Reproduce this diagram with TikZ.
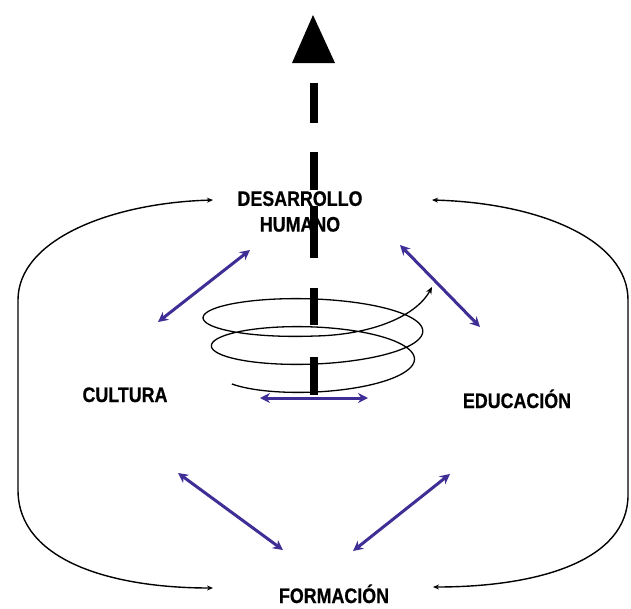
\documentclass[tikz,border=0pt]{standalone}
\usepackage{fontspec}
\newfontfamily\labelfont[FakeStretch=0.85, FakeBold=0.6]{Liberation Sans Bold}
\usetikzlibrary{arrows.meta}
\definecolor{arrowblue}{RGB}{62,46,150}
\begin{document}
\begin{tikzpicture}[x=1pt,y=-1pt,
  lbl/.style={font=\labelfont\fontsize{21}{25.7}\selectfont, inner sep=0pt, align=center, text=black},
  bluearrow/.style={draw=arrowblue, line width=3pt, {Stealth[length=10pt,width=10pt]}-{Stealth[length=10pt,width=10pt]}},
  bracket/.style={draw=black, line width=1.4pt, {Stealth[length=6pt,width=5pt]}-{Stealth[length=6pt,width=5pt]}},
  spiral/.style={draw=black, line width=1.3pt},
  bigdash/.style={draw=black, line width=8pt, dash pattern=on 40pt off 29pt on 38pt off 16pt on 52pt off 30pt on 37pt off 32pt on 40pt}
]
\useasboundingbox[fill=white] (0,0) rectangle (631,608);

% labels
\node[lbl, anchor=north] (dh) at (300,191) {DESARROLLO\\HUMANO};
\node[lbl, anchor=base] (cult) at (125,402) {CULTURA};
\node[lbl, anchor=base] (edu) at (517,408) {EDUCACIÓN};
\node[lbl, anchor=base] (form) at (334,603) {FORMACIÓN};

% outer bracket connectors
\coordinate (lt) at (213,200);
\coordinate (lb) at (213,588);
\coordinate (rt) at (432,200);
\coordinate (rb) at (433,587);
\draw[bracket] (lt) .. controls (110,203) and (18,240) .. (18,300) -- (18,490) .. controls (18,560) and (110,588) .. (lb);
\draw[bracket] (rt) .. controls (540,203) and (628,240) .. (628,300) -- (628,495) .. controls (628,560) and (540,587) .. (rb);

% spiral
\coordinate (spend) at (432,287);
\draw[spiral, -{Stealth[length=7pt,width=6pt]}]
  plot[domain=0:780, samples=260, smooth, variable=\t]
  ({315 + (96 + \t*0.023077)*cos(150-\t)}, {366.5 + (60-\t)*0.077778 + 25.5*sin(150-\t)})
  .. controls (368,335) and (415,318) .. (spend);

% blue double arrows
\coordinate (ul1) at (250,250); \coordinate (ul2) at (158,322);
\coordinate (ur1) at (400,245); \coordinate (ur2) at (480,327);
\coordinate (ll1) at (178,473); \coordinate (ll2) at (283,550);
\coordinate (lr1) at (450,474); \coordinate (lr2) at (353,551);
\coordinate (h1) at (260,398);  \coordinate (h2) at (368,398);
\draw[bluearrow] (ul1) -- (ul2);
\draw[bluearrow] (ur1) -- (ur2);
\draw[bluearrow] (ll1) -- (ll2);
\draw[bluearrow] (lr1) -- (lr2);
\draw[bluearrow] (h1) -- (h2);

% vertical dashed arrow
\coordinate (vtop) at (314,83);
\coordinate (vbot) at (314,395);
\draw[bigdash] (vtop) -- (vbot);
\fill[black] (313,15) -- (335,63) -- (292,63) -- cycle;
\end{tikzpicture}
\end{document}
